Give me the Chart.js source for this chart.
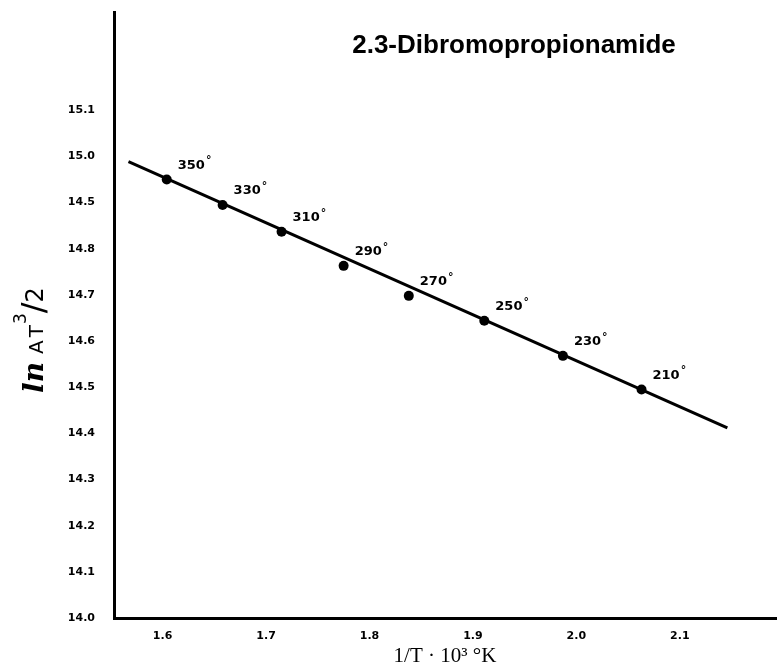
<!DOCTYPE html>
<html lang="en">
<head>
    <meta charset="UTF-8">
    <title>2.3-Dibromopropionamide</title>
    <script src="https://cdn.jsdelivr.net/npm/chart.js"></script>
    <style>
        body { margin: 0; background: #fff; }
        #wrap { width: 781px; height: 670px; }
    </style>
</head>
<body>
    <div id="wrap"><canvas id="myChart"></canvas></div>

    <script>
        // values
        const temps = ['350', '330', '310', '290', '270', '250', '230', '210'];
        const invT = [1.604, 1.658, 1.715, 1.775, 1.838, 1.911, 1.987, 2.063];
        const lnAT = [14.950, 14.895, 14.837, 14.763, 14.698, 14.644, 14.568, 14.495];
        const fitX = [1.567, 2.146];
        const fitY = [14.989, 14.412];

        const xTicks = [1.6, 1.7, 1.8, 1.9, 2.0, 2.1];
        const xTickLabels = ['1.6', '1.7', '1.8', '1.9', '2.0', '2.1'];
        const yTicks = [14.0, 14.1, 14.2, 14.3, 14.4, 14.5, 14.6, 14.7, 14.8, 14.9, 15.0, 15.1];
        const yTickLabels = ['14.0', '14.1', '14.2', '14.3', '14.4', '14.5', '14.6', '14.7', '14.8', '14.5', '15.0', '15.1'];

        const chartTitle = '2.3-Dibromopropionamide';
        const xTitle = '1/T \u00b7 10\u00b3 \u00b0K';

        const tickFont = { family: '"DejaVu Sans", sans-serif', size: 11, weight: 'bold' };

        // title, y axis title and the temperature labels
        const notes = {
            id: 'notes',
            afterDatasetsDraw(chart) {
                const ctx = chart.ctx;
                const meta = chart.getDatasetMeta(0);
                ctx.save();
                ctx.fillStyle = '#000';
                ctx.textAlign = 'left';
                ctx.textBaseline = 'middle';
                meta.data.forEach((pt, i) => {
                    ctx.font = 'bold 13px "DejaVu Sans", sans-serif';
                    ctx.fillText(temps[i], pt.x + 11, pt.y - 14);
                    const w = ctx.measureText(temps[i]).width;
                    ctx.font = 'bold 11px "DejaVu Sans", sans-serif';
                    ctx.fillText('\u00b0', pt.x + 12 + w, pt.y - 19);
                });
                ctx.restore();
            },
            afterDraw(chart) {
                const ctx = chart.ctx;
                ctx.save();
                ctx.fillStyle = '#000';
                ctx.font = 'bold 26px "Liberation Sans", Arial, sans-serif';
                ctx.textAlign = 'center';
                ctx.textBaseline = 'alphabetic';
                ctx.fillText(chartTitle, 514, 53);

                // ln AT^3/2, rotated
                const parts = [
                    { t: 'ln', f: 'italic bold 28px "DejaVu Serif", serif', dy: 0, gap: 8 },
                    { t: 'A', f: '20px "DejaVu Sans", sans-serif', dy: 0, gap: 3 },
                    { t: 'T', f: '20px "DejaVu Sans", sans-serif', dy: 0, gap: 1 },
                    { t: '3', f: '17px "DejaVu Sans", sans-serif', dy: -17, gap: 0 },
                    { t: '/', f: '32px "DejaVu Sans", sans-serif', dy: 1, gap: 0 },
                    { t: '2', f: '24px "DejaVu Sans", sans-serif', dy: 0, gap: 0 }
                ];
                let total = 0;
                parts.forEach(p => { ctx.font = p.f; p.w = ctx.measureText(p.t).width; total += p.w + p.gap; });
                ctx.translate(43, 340);
                ctx.rotate(-Math.PI / 2);
                ctx.textAlign = 'left';
                let x = -total / 2;
                parts.forEach(p => {
                    ctx.font = p.f;
                    ctx.fillText(p.t, x, p.dy);
                    x += p.w + p.gap;
                });
                ctx.restore();
            }
        };

        const ctx = document.getElementById('myChart').getContext('2d');
        const chart = new Chart(ctx, {
            type: 'scatter',
            data: {
                datasets: [
                    {
                        label: 'measured',
                        data: invT.map((x, i) => ({ x: x, y: lnAT[i] })),
                        pointRadius: 5,
                        pointBackgroundColor: '#000',
                        pointBorderWidth: 0,
                        showLine: false,
                        order: 0
                    },
                    {
                        label: 'fit',
                        data: fitX.map((x, i) => ({ x: x, y: fitY[i] })),
                        showLine: true,
                        borderColor: '#000',
                        borderWidth: 3,
                        pointRadius: 0,
                        order: 1
                    }
                ]
            },
            options: {
                responsive: true,
                maintainAspectRatio: false,
                animation: false,
                layout: { padding: { top: 12, left: 0, right: 0, bottom: 0 } },
                plugins: {
                    legend: { display: false },
                    tooltip: { enabled: false }
                },
                scales: {
                    x: {
                        type: 'linear',
                        min: 1.553,
                        max: 2.193,
                        grid: { display: false, drawTicks: false },
                        border: { display: true, color: '#000', width: 3 },
                        afterBuildTicks: scale => { scale.ticks = xTicks.map(v => ({ value: v })); },
                        afterFit: scale => {
                            scale.height = 52;
                            scale.paddingLeft = 0;
                            scale.paddingRight = 0;
                        },
                        ticks: {
                            color: '#000',
                            font: tickFont,
                            padding: 12,
                            autoSkip: false,
                            maxRotation: 0,
                            callback: (value, index) => xTickLabels[index]
                        },
                        title: {
                            display: true,
                            text: xTitle,
                            color: '#000',
                            font: { family: '"Liberation Serif", serif', size: 21 },
                            padding: { top: 0, bottom: 1 }
                        }
                    },
                    y: {
                        type: 'linear',
                        min: 14.0,
                        max: 15.313,
                        grid: { display: false, drawTicks: false },
                        border: { display: true, color: '#000', width: 3 },
                        afterBuildTicks: scale => { scale.ticks = yTicks.map(v => ({ value: v })); },
                        afterFit: scale => {
                            scale.width = 114;
                            scale.paddingTop = 0;
                            scale.paddingBottom = 0;
                        },
                        ticks: {
                            color: '#000',
                            font: tickFont,
                            padding: 19,
                            autoSkip: false,
                            callback: (value, index) => yTickLabels[index]
                        }
                    }
                }
            },
            plugins: [notes]
        });
    </script>
</body>
</html>
